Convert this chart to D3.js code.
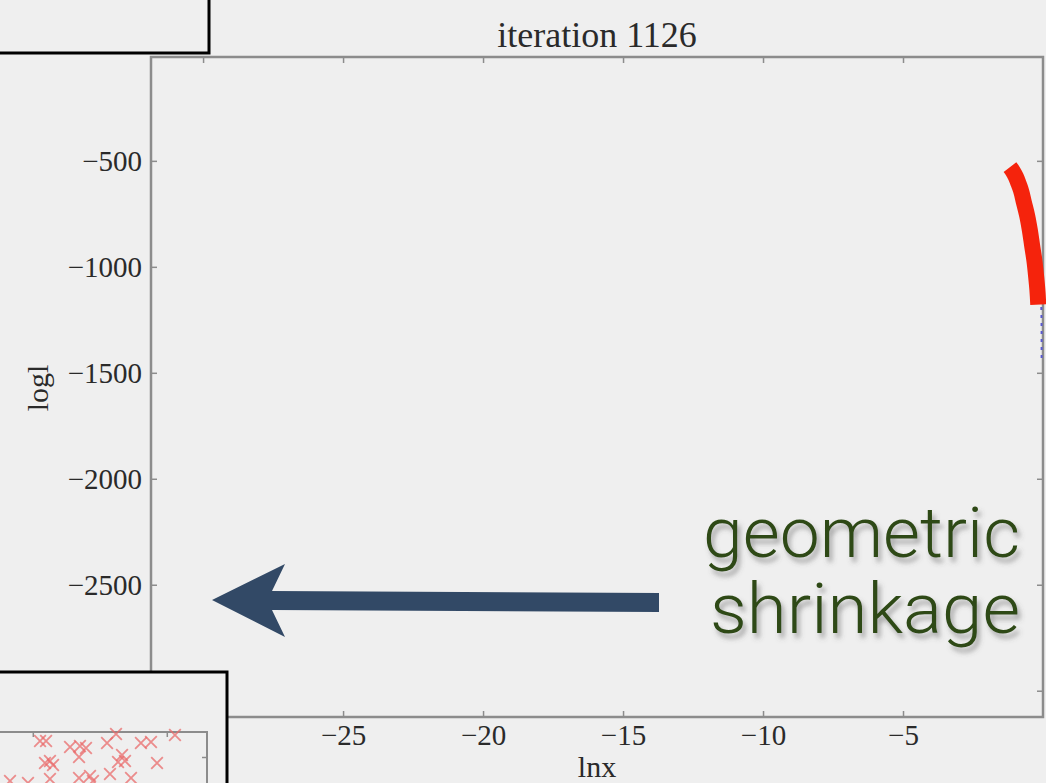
<!DOCTYPE html>
<html>
<head>
<meta charset="utf-8">
<script src="https://cdn.jsdelivr.net/npm/d3@7"></script>
<style>
  html, body { margin: 0; padding: 0; background: #efefef; }
  svg { display: block; }
</style>
</head>
<body>
<div id="chart"></div>
<script>
// main panel: ln x against log-likelihood
const xTicks = [-30, -25, -20, -15, -10, -5];
const yTicks = [-500, -1000, -1500, -2000, -2500, -3000];
const titleText = 'iteration 1126';
const xLabel = 'lnx';
const yLabel = 'logl';

// red band of live points (lnx, logl)
const redLnx  = [-1.18, -1.08, -0.97, -0.88, -0.79, -0.68, -0.57, -0.47, -0.39, -0.31, -0.25, -0.20, -0.17];
const redLogl = [-530,  -548,  -575,  -605,  -638,  -697,  -756,  -827,  -898,  -968,  -1039, -1110, -1178];

// blue dotted tail
const blueLnx  = [-0.06, -0.05, -0.05];
const blueLogl = [-1190, -1320, -1440];

// inset scatter (crosses)
const insetX = [-0.946, -0.901, -0.722, -0.648, -0.603, -0.446, -0.379, -0.193, -0.118, 0.061,
                -0.909, -0.872, -0.849, -0.655, -0.364, -0.334, -0.312, -0.073,
                -1.170, -1.036, -0.872, -0.655, -0.573, -0.551, -0.424, -0.267];
const insetY = [2.16, 2.16, 2.10, 2.11, 2.09, 2.14, 2.23, 2.14, 2.15, 2.22,
                1.94, 1.96, 1.92, 2.00, 1.95, 2.02, 1.96, 1.94,
                1.76, 1.74, 1.78, 1.79, 1.81, 1.76, 1.83, 1.79];
const insetXTicks = [-1, 0];
const insetYTicks = [2];

const noteLines = ['geometric', 'shrinkage'];

const W = 1046, H = 783;
const plot = { left: 151, top: 57, right: 1043, bottom: 717 };
const axisGrey = '#8c8c8c';
const serif = '"Liberation Serif", "Times New Roman", serif';

const svg = d3.select('#chart').append('svg')
  .attr('width', W)
  .attr('height', H);

svg.append('rect').attr('width', W).attr('height', H).attr('fill', '#efefef');

const defs = svg.append('defs');
const shadow = defs.append('filter').attr('id', 'shadow')
  .attr('x', '-10%').attr('y', '-20%').attr('width', '130%').attr('height', '160%');
shadow.append('feDropShadow')
  .attr('dx', 3).attr('dy', 5).attr('stdDeviation', 2.5)
  .attr('flood-color', '#555').attr('flood-opacity', 0.5);

const x = d3.scaleLinear().domain([-31.86, 0]).range([plot.left, plot.right]);
const y = d3.scaleLinear().domain([-10, -3124]).range([plot.top, plot.bottom]);

// axes (ticks point inward, like the old matplotlib style)
function styleAxis(g) {
  g.select('.domain').remove();
  g.selectAll('.tick line').attr('stroke', axisGrey).attr('stroke-width', 1.5);
  g.selectAll('.tick text').attr('fill', '#2a2a2a').style('font-family', serif).style('font-size', '29px');
}

svg.append('g')
  .attr('transform', `translate(0,${plot.bottom})`)
  .call(d3.axisBottom(x).tickValues(xTicks).tickSize(-6).tickPadding(7)
    .tickFormat(d => '\u2212' + Math.abs(d)))
  .call(styleAxis);

svg.append('g')
  .attr('transform', `translate(0,${plot.top})`)
  .call(d3.axisTop(x).tickValues(xTicks).tickSize(-6).tickFormat(''))
  .call(styleAxis);

svg.append('g')
  .attr('transform', `translate(${plot.left},0)`)
  .call(d3.axisLeft(y).tickValues(yTicks).tickSize(-6).tickPadding(9)
    .tickFormat(d => '\u2212' + Math.abs(d)))
  .call(styleAxis);

svg.append('g')
  .attr('transform', `translate(${plot.right},0)`)
  .call(d3.axisRight(y).tickValues(yTicks).tickSize(-6).tickFormat(''))
  .call(styleAxis);

svg.append('rect')
  .attr('x', plot.left).attr('y', plot.top)
  .attr('width', plot.right - plot.left).attr('height', plot.bottom - plot.top)
  .attr('fill', 'none').attr('stroke', axisGrey).attr('stroke-width', 2.5);

svg.append('text')
  .attr('x', (plot.left + plot.right) / 2).attr('y', 47)
  .attr('text-anchor', 'middle')
  .style('font-family', serif).style('font-size', '36px').attr('fill', '#2a2a2a')
  .text(titleText);

svg.append('text')
  .attr('x', (plot.left + plot.right) / 2).attr('y', 777)
  .attr('text-anchor', 'middle')
  .style('font-family', serif).style('font-size', '30px').attr('fill', '#2a2a2a')
  .text(xLabel);

svg.append('text')
  .attr('transform', 'translate(48,388) rotate(-90)')
  .attr('text-anchor', 'middle')
  .style('font-family', serif).style('font-size', '30px').attr('fill', '#2a2a2a')
  .text(yLabel);

// data
const redPts = redLnx.map((v, i) => [v, redLogl[i]]);
const bluePts = blueLnx.map((v, i) => [v, blueLogl[i]]);
const line = d3.line().x(d => x(d[0])).y(d => y(d[1])).curve(d3.curveMonotoneY);

const dataG = svg.append('g');
dataG.append('path')
  .datum(bluePts)
  .attr('d', line)
  .attr('fill', 'none').attr('stroke', '#5a5ad0').attr('stroke-width', 2)
  .attr('stroke-dasharray', '3,5');

dataG.append('path')
  .datum(redPts)
  .attr('d', line)
  .attr('fill', 'none').attr('stroke', '#f5230c').attr('stroke-width', 16);

const cross = d3.symbol().type(d3.symbolX).size(170);
dataG.selectAll('path.red-x')
  .data(redPts)
  .join('path')
  .attr('class', 'red-x')
  .attr('transform', d => `translate(${x(d[0])},${y(d[1])})`)
  .attr('d', cross)
  .attr('fill', '#f5230c');

// overlay boxes (pieces of neighbouring slides)
svg.append('rect')
  .attr('x', -10).attr('y', -10).attr('width', 219).attr('height', 63)
  .attr('fill', '#efefef').attr('stroke', '#000').attr('stroke-width', 3);

svg.append('rect')
  .attr('x', -10).attr('y', 672).attr('width', 237).attr('height', 130)
  .attr('fill', '#efefef').attr('stroke', '#000').attr('stroke-width', 3);

const inset = { left: -61, top: 732, right: 207, bottom: 832 };
const ix = d3.scaleLinear().domain([-1.7, 0.3]).range([inset.left, inset.right]);
const iy = d3.scaleLinear().domain([2.25, 1.25]).range([inset.top, inset.bottom]);

const insetG = svg.append('g');
insetG.append('path')
  .attr('d', `M${inset.left},${inset.top}H${inset.right}V${inset.bottom}`)
  .attr('fill', 'none').attr('stroke', axisGrey).attr('stroke-width', 2);
insetG.append('g')
  .attr('transform', `translate(0,${inset.top})`)
  .call(d3.axisTop(ix).tickValues(insetXTicks).tickSize(-5).tickFormat(''))
  .call(styleAxis);
insetG.append('g')
  .attr('transform', `translate(${inset.right},0)`)
  .call(d3.axisRight(iy).tickValues(insetYTicks).tickSize(-5).tickFormat(''))
  .call(styleAxis);

const smallCross = d3.symbol().type(d3.symbolX).size(90);
insetG.selectAll('path.pt')
  .data(insetX.map((v, i) => [v, insetY[i]]))
  .join('path')
  .attr('class', 'pt')
  .attr('transform', d => `translate(${ix(d[0])},${iy(d[1])})`)
  .attr('d', smallCross)
  .attr('fill', 'none')
  .attr('stroke', '#ea6a6a').attr('stroke-opacity', 0.75).attr('stroke-width', 1.8);

// arrow
svg.append('path')
  .attr('d', 'M212,600 L285,564 L272,591 L659,593 L659,612 L272,610 L285,637 Z')
  .attr('fill', '#324966');

// annotation
const note = svg.append('g').attr('filter', 'url(#shadow)');
note.selectAll('text')
  .data(noteLines)
  .join('text')
  .attr('x', 1020)
  .attr('y', (d, i) => 557 + i * 76)
  .attr('text-anchor', 'end')
  .attr('textLength', (d, i) => i === 0 ? 317 : 310)
  .attr('lengthAdjust', 'spacingAndGlyphs')
  .style('font-family', 'Roboto, "Liberation Sans", Arial, sans-serif')
  .style('font-weight', 300)
  .style('font-size', '70px')
  .attr('fill', '#2e4a14')
  .text(d => d);
</script>
</body>
</html>
